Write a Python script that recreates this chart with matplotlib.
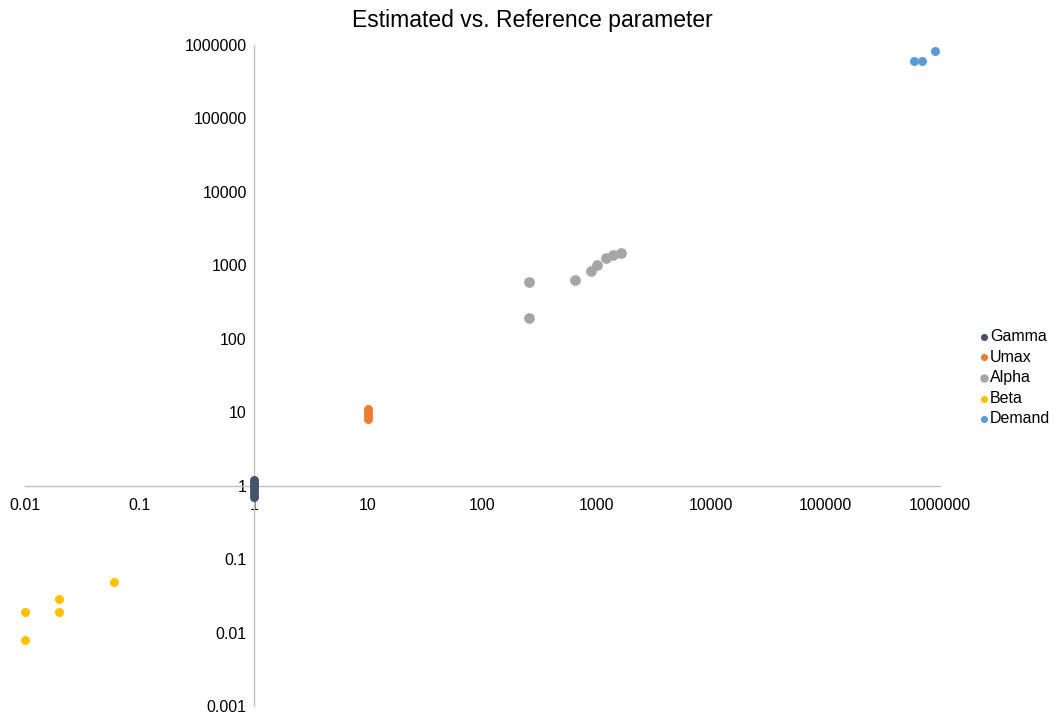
import matplotlib.pyplot as plt
from matplotlib.ticker import FixedLocator, NullLocator

plt.rcParams['font.family'] = ['Liberation Sans', 'DejaVu Sans']

# --- DATA (reference value, estimated value) ---
gamma_ref = [1, 1, 1, 1, 1, 1]
gamma_est = [1.2, 1.1, 1.0, 0.9, 0.8, 0.7]

umax_ref = [10, 10, 10, 10]
umax_est = [11, 10, 9, 8]

alpha_ref = [253, 253, 640, 880, 1000, 1200, 1380, 1620]
alpha_est = [600, 194, 640, 850, 1000, 1240, 1400, 1490]

beta_ref = [0.01, 0.01, 0.02, 0.02, 0.06]
beta_est = [0.019, 0.008, 0.029, 0.019, 0.049]

demand_ref = [590000, 690000, 900000]
demand_est = [598000, 610000, 820000]

x_ticks = [0.01, 0.1, 1, 10, 100, 1000, 10000, 100000, 1000000]
x_labels = ["0.01", "0.1", "1", "10", "100", "1000", "10000", "100000", "1000000"]
y_ticks = [0.001, 0.01, 0.1, 1, 10, 100, 1000, 10000, 100000, 1000000]
y_labels = ["0.001", "0.01", "0.1", "1", "10", "100", "1000", "10000", "100000", "1000000"]

# --- PLOT ---
fig = plt.figure(figsize=(10.55, 7.16), dpi=100)
ax = fig.add_axes([25 / 1055, 1 - 706 / 716, 915 / 1055, 661 / 716])

ax.scatter(gamma_ref, gamma_est, s=30, color="#44546A", label="Gamma", zorder=3, clip_on=False)
ax.scatter(umax_ref, umax_est, s=30, color="#ED7D31", label="Umax", zorder=3, clip_on=False)
ax.scatter(alpha_ref, alpha_est, s=45, color="#A5A5A5", label="Alpha", zorder=3, clip_on=False)
ax.scatter(beta_ref, beta_est, s=30, color="#FFC000", label="Beta", zorder=3, clip_on=False)
ax.scatter(demand_ref, demand_est, s=30, color="#5B9BD5", label="Demand", zorder=3, clip_on=False)

ax.set_xscale("log")
ax.set_yscale("log")
ax.set_xlim(0.01, 1000000)
ax.set_ylim(0.001, 1000000)

ax.spines["left"].set_position(("data", 1))
ax.spines["bottom"].set_position(("data", 1))
ax.spines["top"].set_visible(False)
ax.spines["right"].set_visible(False)
for side in ["left", "bottom"]:
    ax.spines[side].set_color("#BFBFBF")
    ax.spines[side].set_linewidth(1)

ax.xaxis.set_major_locator(FixedLocator(x_ticks))
ax.xaxis.set_minor_locator(NullLocator())
ax.set_xticklabels(x_labels)
ax.yaxis.set_major_locator(FixedLocator(y_ticks))
ax.yaxis.set_minor_locator(NullLocator())
ax.set_yticklabels(y_labels)
ax.tick_params(axis="both", length=0, labelsize=11.5, colors="black")
ax.tick_params(axis="x", pad=9)
ax.tick_params(axis="y", pad=5)

fig.text(532 / 1055, 1 - 20 / 716, "Estimated vs. Reference parameter",
         ha="center", va="center", fontsize=16.5)

fig.legend(loc="upper left", bbox_to_anchor=(979 / 1055, 1 - 329 / 716),
           frameon=False, fontsize=11.5, handlelength=0.6, handletextpad=0.1,
           labelspacing=0.35, borderaxespad=0, borderpad=0, markerscale=0.75)

fig.savefig("out.png", dpi=100)
